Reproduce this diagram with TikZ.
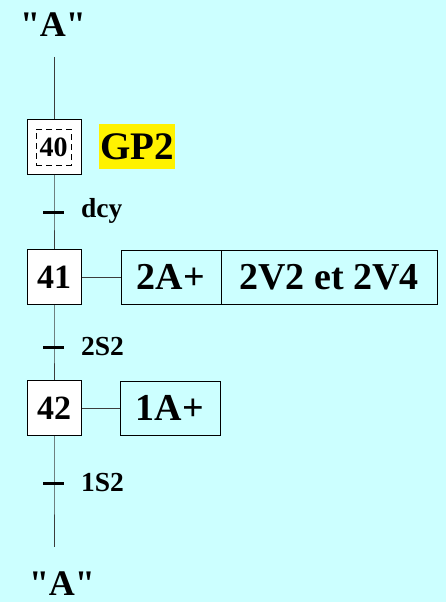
\documentclass[tikz,border=0pt]{standalone}
\usepackage{fontspec}
\setmainfont{Liberation Serif}
% a copy of the face without TeX ligatures, so that " stays a straight quote
\newfontfamily\plainquotes{Liberation Serif}
\definecolor{bgcyan}{RGB}{204,255,255}
\definecolor{linkgray}{RGB}{60,60,60}
\begin{document}
\begin{tikzpicture}[x=1pt,y=-1pt,
  stepbox/.style={draw=black, fill=white, line width=1pt, minimum width=54pt, minimum height=55pt, inner sep=0pt,
    font=\fontsize{34}{38}\selectfont\bfseries},
  actbox/.style={draw=black, line width=1pt, minimum height=54pt, inner sep=0pt,
    font=\fontsize{38}{42}\selectfont\bfseries},
  trlabel/.style={anchor=base west, inner sep=0pt, font=\fontsize{27.5}{30}\selectfont\bfseries},
  reflabel/.style={anchor=base, inner sep=0pt, font=\plainquotes\fontsize{36}{40}\selectfont\bfseries},
  link/.style={draw=linkgray, line width=1pt},
  tick/.style={draw=black, line width=3pt}
]
\fill[bgcyan] (0,0) rectangle (446,602);
\useasboundingbox (0,0) rectangle (446,602);

% references to step "A"
\node[reflabel] (refTop) at (53,37) {"A"};
\node[reflabel] (refBot) at (62,595) {"A"};
\coordinate (lineTop) at (54,57);
\coordinate (lineBot) at (54,547);

% steps
\node[stepbox] (s40) at (54,146.5) {};
\node[draw=black, dash pattern=on 6pt off 4pt, line width=0.8pt, minimum width=35pt, minimum height=36pt, inner sep=0pt,
  font=\fontsize{28}{30}\selectfont\bfseries] (s40in) at (53.5,147) {40};
\node[stepbox] (s41) at (54,277) {41};
\node[stepbox] (s42) at (54,408) {42};

% macro-step label
\node[fill=yellow, minimum width=76pt, minimum height=45pt, inner sep=0pt,
  font=\fontsize{39}{42}\selectfont\bfseries] (gp2) at (137,146.5) {GP2};

% actions
\node[actbox, minimum width=100pt] (a41a) at (171,277) {2A+};
\node[actbox, minimum width=216pt] (a41b) at (329,277) {2V2 et 2V4};
\node[actbox, minimum width=100pt] (a42) at (170,408) {1A+};

% transitions
\coordinate (t1) at (54,212);
\coordinate (t2) at (54,347);
\coordinate (t3) at (54,483);
\node[trlabel] (l1) at (81,217) {dcy};
\node[trlabel] (l2) at (81,355) {2S2};
\node[trlabel] (l3) at (81,491) {1S2};

% links
\draw[link] (lineTop) -- (s40.north);
\draw[link] (s40.south) -- (t1) -- (s41.north);
\draw[link] (s41.south) -- (t2) -- (s42.north);
\draw[link] (s42.south) -- (t3) -- (lineBot);
\draw[link] (s41.east) -- (a41a.west);
\draw[link] (s42.east) -- (a42.west);

% transition bars
\draw[tick] ([xshift=-11pt]t1) -- ([xshift=10pt]t1);
\draw[tick] ([xshift=-11pt]t2) -- ([xshift=10pt]t2);
\draw[tick] ([xshift=-11pt]t3) -- ([xshift=10pt]t3);
\end{tikzpicture}
\end{document}
